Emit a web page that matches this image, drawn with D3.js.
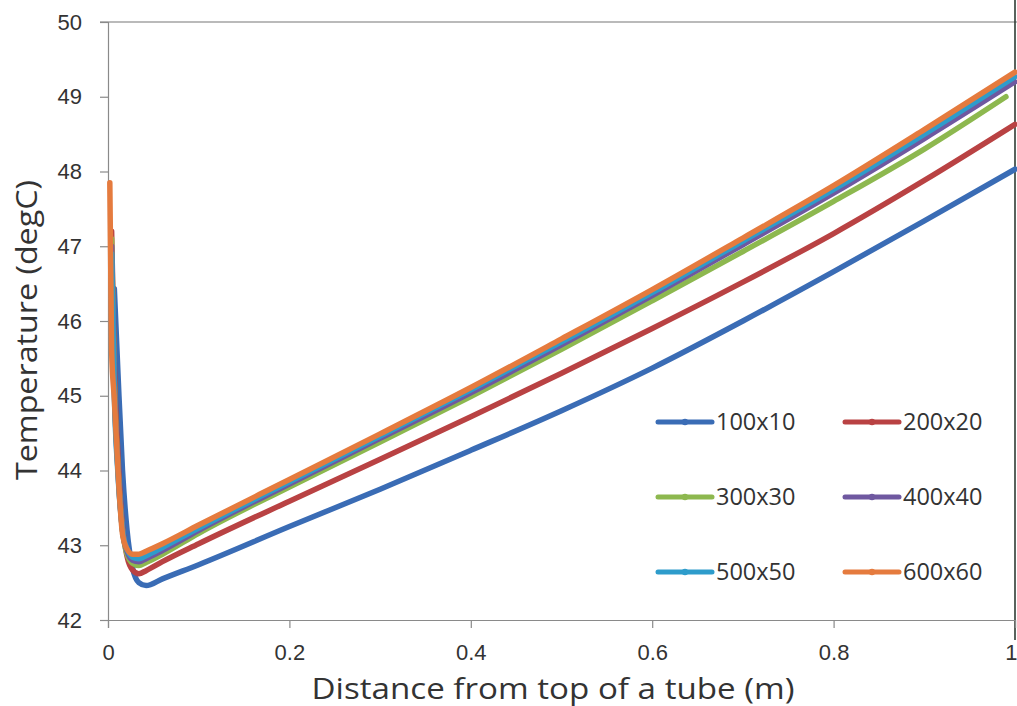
<!DOCTYPE html>
<html>
<head>
<meta charset="utf-8">
<script src="https://cdn.jsdelivr.net/npm/d3@7"></script>
<style>
  body { margin: 0; background: #fff; }
  svg { display: block; font-family: "Open Sans", "Noto Sans", sans-serif; }
</style>
</head>
<body>
<svg id="chart" width="1017" height="706"></svg>
<script>
// distance from top of tube (m), shared by all series
const distance = [0.002, 0.004, 0.007, 0.011, 0.016, 0.021, 0.027, 0.034, 0.042, 0.06,
  0.1, 0.2, 0.3, 0.4, 0.5, 0.6, 0.7, 0.8, 0.9, 0.99, 1.0];

// temperatures (degC), null where the series has no point
const t100x10 = [null, null, 46.43, 45.3, 44.0, 43.2, 42.7, 42.5, 42.46, 42.55,
  42.74, 43.25, 43.75, 44.27, 44.8, 45.37, 46.0, 46.66, 47.34, null, 48.03];
const t200x20 = [null, 47.2, 45.4, 44.2, 43.25, 42.85, 42.67, 42.62, 42.66, 42.78,
  43.02, 43.59, 44.15, 44.72, 45.3, 45.9, 46.52, 47.17, 47.88, null, 48.63];
const t300x30 = [null, 47.1, 45.2, 44.05, 43.2, 42.88, 42.76, 42.73, 42.77, 42.88,
  43.16, 43.78, 44.38, 44.99, 45.62, 46.27, 46.93, 47.6, 48.3, 49.0, null];
const t400x40 = [null, 47.0, 45.1, 44.0, 43.2, 42.92, 42.8, 42.78, 42.82, 42.93,
  43.2, 43.82, 44.43, 45.04, 45.68, 46.34, 47.02, 47.71, 48.44, null, 49.2];
const t500x50 = [null, 46.9, 45.0, 43.95, 43.2, 42.95, 42.84, 42.82, 42.86, 42.97,
  43.23, 43.85, 44.46, 45.08, 45.72, 46.38, 47.07, 47.76, 48.5, null, 49.27];
const t600x60 = [47.85, 45.6, 44.95, 44.0, 43.15, 42.95, 42.88, 42.88, 42.92, 43.02,
  43.27, 43.88, 44.49, 45.11, 45.76, 46.42, 47.11, 47.81, 48.56, null, 49.33];

const seriesNames = ["100x10", "200x20", "300x30", "400x40", "500x50", "600x60"];
const seriesTemps = [t100x10, t200x20, t300x30, t400x40, t500x50, t600x60];
const seriesColors = ["#3a6cb5", "#b94243", "#8db84f", "#6f58a0", "#2e9ccb", "#e57b3e"];

const xTicks = [0, 0.2, 0.4, 0.6, 0.8, 1];
const yTicks = [42, 43, 44, 45, 46, 47, 48, 49, 50];

const svg = d3.select("#chart");
const margin = { left: 108, right: 1015, top: 22, bottom: 620 };

const x = d3.scaleLinear().domain([0, 1]).range([margin.left, margin.right]);
const y = d3.scaleLinear().domain([42, 50]).range([margin.bottom, margin.top]);

const textColor = "#333";
const axisColor = "#8a8a8a";

// plot frame (top and right)
svg.append("line")
  .attr("x1", margin.left - 8).attr("x2", 1017)
  .attr("y1", y(50)).attr("y2", y(50))
  .attr("stroke", "#777").attr("stroke-width", 1.2);
svg.append("line")
  .attr("x1", margin.right).attr("x2", margin.right)
  .attr("y1", 0).attr("y2", 640)
  .attr("stroke", "#2f3b34").attr("stroke-width", 1.6);

// y axis
const yAxis = svg.append("g")
  .attr("transform", `translate(${margin.left},0)`)
  .call(d3.axisLeft(y).tickValues(yTicks).tickSize(8).tickPadding(18).tickFormat(d3.format("d")));
yAxis.select(".domain").attr("stroke", axisColor).attr("stroke-width", 1.2);
yAxis.selectAll(".tick line").attr("stroke", axisColor).attr("stroke-width", 1.2);
yAxis.selectAll(".tick text")
  .attr("fill", textColor).style("font-size", "22px");

// x axis
const xAxis = svg.append("g")
  .attr("transform", `translate(0,${margin.bottom})`)
  .call(d3.axisBottom(x).tickValues(xTicks).tickSize(8).tickPadding(16).tickFormat(d => d === 0 || d === 1 ? d : d3.format(".1f")(d)));
xAxis.select(".domain").attr("stroke", axisColor).attr("stroke-width", 1.2);
xAxis.selectAll(".tick line").attr("stroke", axisColor).attr("stroke-width", 1.2);
xAxis.selectAll(".tick text")
  .attr("fill", textColor).style("font-size", "22px");
// last label sits at the page edge; keep it inside
xAxis.selectAll(".tick text").filter(d => d === 1)
  .attr("text-anchor", "end").attr("dx", 2);

// axis titles
svg.append("text")
  .attr("x", 553).attr("y", 699)
  .attr("text-anchor", "middle")
  .attr("fill", textColor).style("font-size", "29px")
  .attr("textLength", 483).attr("lengthAdjust", "spacingAndGlyphs")
  .text("Distance from top of a tube (m)");
svg.append("text")
  .attr("transform", "translate(37,330) rotate(-90)")
  .attr("text-anchor", "middle")
  .attr("fill", textColor).style("font-size", "29px")
  .attr("textLength", 300).attr("lengthAdjust", "spacingAndGlyphs")
  .text("Temperature (degC)");

// series lines
const line = d3.line()
  .x(d => x(d[0]))
  .y(d => y(d[1]))
  .curve(d3.curveMonotoneX);

seriesTemps.forEach((temps, i) => {
  const pts = distance.map((d, j) => [d, temps[j]]).filter(p => p[1] != null);
  svg.append("path")
    .datum(pts)
    .attr("d", line)
    .attr("fill", "none")
    .attr("stroke", seriesColors[i])
    .attr("stroke-width", 5.5)
    .attr("stroke-linejoin", "round")
    .attr("stroke-linecap", "round");
});

// legend: 3 rows x 2 columns
const legend = svg.append("g");
seriesNames.forEach((name, i) => {
  const col = i % 2, row = Math.floor(i / 2);
  const lx = col === 0 ? 658 : 845;
  const ly = 422 + row * 75;
  const g = legend.append("g").attr("transform", `translate(${lx},${ly})`);
  g.append("line")
    .attr("x1", 0).attr("x2", 54).attr("y1", 0).attr("y2", 0)
    .attr("stroke", seriesColors[i]).attr("stroke-width", 5)
    .attr("stroke-linecap", "round");
  g.append("circle")
    .attr("cx", 27).attr("cy", 0).attr("r", 3.2)
    .attr("fill", seriesColors[i]);
  g.append("text")
    .attr("x", 58).attr("y", 0).attr("dy", "0.35em")
    .attr("fill", textColor).style("font-size", "23.5px")
    .text(name);
});
</script>
</body>
</html>
